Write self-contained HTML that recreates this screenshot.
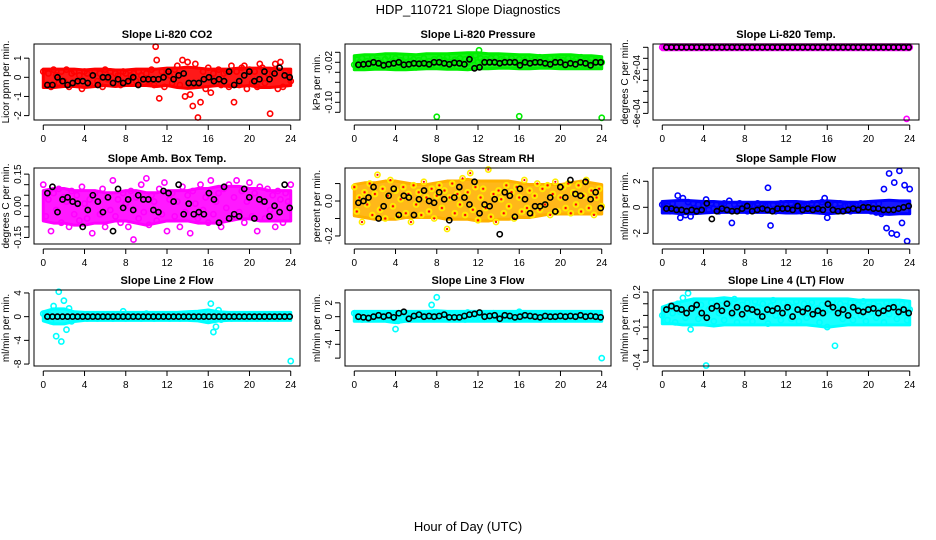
<!DOCTYPE html>
<html><head><meta charset="utf-8"><style>
body{margin:0;background:#fff;}
svg{display:block;font-family:"Liberation Sans",sans-serif;}
</style></head><body>
<svg id="chart" width="936" height="540">
<text x="468" y="14" text-anchor="middle" font-size="13">HDP_110721  Slope Diagnostics</text>
<text x="468" y="531" text-anchor="middle" font-size="13">Hour of Day (UTC)</text>
</svg>
<script>
const xTicks=[0,4,8,12,16,20,24];
const titles=["Slope Li-820 CO2","Slope Li-820 Pressure","Slope Li-820 Temp.","Slope Amb. Box Temp.","Slope Gas Stream RH","Slope Sample Flow","Slope Line 2 Flow","Slope Line 3 Flow","Slope Line 4 (LT) Flow"];
const yTitles=["Licor ppm per min.","kPa per min.","degrees C per min.","degrees C per min.","percent per min.","ml/min per min.","ml/min per min.","ml/min per min.","ml/min per min."];
const yDomains=[[-2.23,1.74],[-0.1354,0.0166],[-6.6e-4,0.3e-4],[-0.181,0.179],[-0.246,0.189],[-2.82,3.02],[-8.33,4.5],[-7.14,3.86],[-0.434,0.218]];
const yTickVals=[[-2,-1,0,1],[0,-0.02,-0.04,-0.06,-0.08,-0.10,-0.12],[0,-1e-4,-2e-4,-3e-4,-4e-4,-5e-4,-6e-4],[-0.15,-0.10,-0.05,0,0.05,0.10,0.15],[-0.2,-0.1,0,0.1],[-2,0,2],[4,0,-4,-8],[2,0,-2,-4,-6],[0.2,0.1,0,-0.1,-0.2,-0.3,-0.4]];
const yTickLabels=[["-2","-1","0","1"],["","-0.02","","","","-0.10",""],["","","-2e-04","","","","-6e-04"],["-0.15","","","0.00","","","0.15"],["-0.2","","0.0",""],["-2","0","2"],["4","0","-4","-8"],["2","0","","-4",""],["0.2","","","-0.1","","","-0.4"]];
const colors=["#ff0000","#00ee00","#ff00ff","#ff00ff","rh","#0000ff","#00ffff","#00ffff","#00ffff"];
const bandColors=["#ff0000","#00ee00","#ff00ff","#ff00ff","#ffb000","#0000ff","#00ffff","#00ffff","#00ffff"];

// hourly dense-band envelopes (hours 0..24)
const co2Lo=[-0.4,-0.4,-0.35,-0.35,-0.4,-0.35,-0.3,-0.35,-0.3,-0.3,-0.3,-0.35,-0.3,-0.4,-0.45,-0.4,-0.35,-0.3,-0.35,-0.35,-0.3,-0.4,-0.4,-0.35,-0.3];
const co2Hi=[0.3,0.3,0.3,0.3,0.25,0.3,0.3,0.25,0.25,0.3,0.3,0.3,0.35,0.35,0.4,0.35,0.3,0.3,0.3,0.35,0.35,0.35,0.35,0.3,0.3];
const presLo=[-0.03,-0.03,-0.029,-0.029,-0.03,-0.03,-0.029,-0.028,-0.028,-0.029,-0.029,-0.03,-0.028,-0.028,-0.027,-0.027,-0.028,-0.028,-0.027,-0.027,-0.028,-0.028,-0.028,-0.028,-0.028];
const presHi=[-0.012,-0.01,-0.01,-0.008,-0.008,-0.009,-0.01,-0.008,-0.008,-0.008,-0.007,-0.006,-0.006,-0.008,-0.008,-0.009,-0.01,-0.01,-0.012,-0.011,-0.01,-0.01,-0.012,-0.012,-0.014];
const tempLo=[0,0,0,0,0,0,0,0,0,0,0,0,0,0,0,0,0,0,0,0,0,0,0,0,0];
const tempHi=[0,0,0,0,0,0,0,0,0,0,0,0,0,0,0,0,0,0,0,0,0,0,0,0,0];
const ambLo=[-0.06,-0.07,-0.07,-0.08,-0.08,-0.07,-0.07,-0.06,-0.06,-0.07,-0.08,-0.07,-0.06,-0.06,-0.06,-0.07,-0.07,-0.07,-0.06,-0.05,-0.05,-0.06,-0.06,-0.06,-0.06];
const ambHi=[0.06,0.07,0.07,0.06,0.06,0.06,0.05,0.05,0.06,0.06,0.05,0.05,0.06,0.06,0.06,0.07,0.07,0.08,0.08,0.08,0.07,0.07,0.06,0.06,0.06];
const rhLo=[-0.07,-0.08,-0.09,-0.09,-0.09,-0.08,-0.08,-0.08,-0.08,-0.09,-0.09,-0.09,-0.1,-0.1,-0.09,-0.09,-0.08,-0.08,-0.07,-0.06,-0.06,-0.06,-0.06,-0.06,-0.06];
const rhHi=[0.08,0.09,0.09,0.1,0.1,0.09,0.08,0.08,0.09,0.1,0.1,0.11,0.1,0.1,0.1,0.1,0.09,0.08,0.08,0.08,0.08,0.09,0.1,0.09,0.08];
const sfLo=[-0.25,-0.25,-0.3,-0.3,-0.25,-0.2,-0.2,-0.2,-0.2,-0.2,-0.2,-0.2,-0.25,-0.25,-0.2,-0.25,-0.3,-0.25,-0.2,-0.2,-0.2,-0.3,-0.35,-0.3,-0.3];
const sfHi=[0.25,0.3,0.35,0.3,0.25,0.25,0.2,0.2,0.2,0.2,0.2,0.2,0.25,0.25,0.2,0.25,0.3,0.25,0.2,0.2,0.25,0.3,0.35,0.3,0.3];
const l2Lo=[-0.3,-0.8,-0.8,-0.4,-0.2,-0.2,-0.2,-0.2,-0.2,-0.2,-0.2,-0.2,-0.2,-0.2,-0.2,-0.3,-0.6,-0.3,-0.2,-0.2,-0.2,-0.2,-0.2,-0.2,-0.2];
const l2Hi=[0.4,0.9,0.9,0.4,0.3,0.3,0.3,0.3,0.3,0.3,0.3,0.3,0.3,0.3,0.4,0.5,0.7,0.4,0.3,0.3,0.3,0.3,0.3,0.3,0.3];
const l3Lo=[-0.3,-0.3,-0.3,-0.3,-0.5,-0.3,-0.3,-0.3,-0.3,-0.3,-0.3,-0.3,-0.3,-0.3,-0.3,-0.3,-0.3,-0.3,-0.3,-0.3,-0.3,-0.3,-0.3,-0.3,-0.3];
const l3Hi=[0.4,0.4,0.4,0.4,0.4,0.4,0.4,0.4,0.5,0.4,0.4,0.4,0.4,0.4,0.4,0.4,0.4,0.4,0.4,0.4,0.4,0.4,0.4,0.4,0.4];
const l4Lo=[-0.05,-0.05,-0.06,-0.06,-0.06,-0.07,-0.06,-0.06,-0.06,-0.06,-0.06,-0.06,-0.06,-0.06,-0.06,-0.07,-0.08,-0.07,-0.06,-0.06,-0.06,-0.06,-0.06,-0.06,-0.06];
const l4Hi=[0.05,0.08,0.1,0.12,0.12,0.12,0.13,0.12,0.12,0.12,0.12,0.12,0.12,0.12,0.12,0.12,0.12,0.12,0.12,0.11,0.11,0.11,0.11,0.11,0.1];

const co2Col=[0.3,-0.4,0.2,-0.5,0.4,0.1,-0.3,0.3,-0.2,0.4,-0.5,0.2,0.3,-0.3,0.1,-0.6,0.3,0.2,-0.4,0.1,0.3,-0.2,0.2,-0.5,0.4,-0.1,0.3,-0.3,0.2,0.1,-0.4,0.3,0.2,-0.3,0.1,0.2,-0.2,0.3,0.1,-0.3,0.2,-0.2,0.4,-0.4,0.9,-1.1,0.3,-0.5,0.2,0.1,-0.3,0.4,0.6,-0.4,0.9,-1.0,0.8,-0.9,-1.5,0.7,-2.1,-1.3,0.3,-0.6,0.5,-0.8,0.2,-0.3,0.4,-0.4,0.2,0.3,-0.5,0.6,-1.3,0.3,-0.4,0.5,0.6,-0.6,0.4,-0.3,0.3,-0.5,0.7,0.5,-0.3,0.2,-1.9,0.3,0.7,-0.6,0.8,-0.5,0.3,0.1,-0.2];
const co2Blk=[-0.4,-0.4,0,-0.2,-0.4,-0.3,-0.2,-0.2,-0.3,0.1,-0.4,0,0,-0.3,-0.1,-0.3,-0.2,0,-0.4,-0.1,-0.1,-0.1,-0.1,0,0.3,-0.1,0.1,0.2,-0.3,-0.3,-0.3,-0.1,0,-0.2,-0.1,-0.2,0.3,-0.4,-0.2,0.1,0.3,-0.2,-0.1,0.3,-0.1,0.2,0.5,0.1,0];
const presCol=[-0.025,-0.015,-0.02,-0.012,-0.028,-0.018,-0.022,-0.01,-0.025,-0.016,-0.02,-0.028,-0.014,-0.008,-0.022,-0.018,-0.012,-0.026,-0.016,-0.02,-0.01,-0.024,-0.018,-0.014,-0.03,-0.016,-0.02,-0.012,-0.022,-0.018,-0.026,-0.014,-0.02,-0.012,-0.024,-0.016,-0.01,-0.02,-0.028,-0.015,-0.018,-0.012,-0.022,-0.014,-0.02,-0.01,-0.016,-0.006,-0.02,-0.012,-0.018,-0.014,-0.02,-0.012,-0.018,-0.01,-0.02,-0.014,-0.016,-0.01,-0.02,-0.012,-0.018,-0.022,-0.014,-0.02,-0.016,-0.012,-0.022,-0.018,-0.014,-0.02,-0.01,-0.024,-0.016,-0.02,-0.012,-0.022,-0.018,-0.014,-0.025,-0.016,-0.02,-0.012,-0.022,-0.018,-0.014,-0.02,-0.01,-0.024,-0.016,-0.02,-0.012,-0.022,-0.018,-0.014,-0.02];
const presBlk=[-0.025,-0.024,-0.023,-0.02,-0.022,-0.026,-0.024,-0.022,-0.02,-0.025,-0.024,-0.022,-0.023,-0.022,-0.024,-0.02,-0.02,-0.022,-0.024,-0.021,-0.022,-0.024,-0.014,-0.032,-0.03,-0.02,-0.02,-0.02,-0.022,-0.02,-0.02,-0.02,-0.026,-0.02,-0.022,-0.02,-0.02,-0.022,-0.024,-0.02,-0.02,-0.025,-0.022,-0.024,-0.02,-0.022,-0.026,-0.02,-0.02];
const tempCol=[0,0,0,0,0,0,0,0,0,0,0,0,0,0,0,0,0,0,0,0,0,0,0,0,0,0,0,0,0,0,0,0,0,0,0,0,0,0,0,0,0,0,0,0,0,0,0,0,0];
const tempBlk=[0,0,0,0,0,0,0,0,0,0,0,0,0,0,0,0,0,0,0,0,0,0,0,0,0,0,0,0,0,0,0,0,0,0,0,0,0,0,0,0,0,0,0,0,0,0,0,0,0];
const ambCol=[0.1,-0.05,0.03,-0.12,0.06,-0.02,0.08,-0.08,0.04,0.02,-0.1,0.07,-0.04,0.05,-0.07,0.09,0.01,-0.06,0.03,-0.13,0.06,0.02,-0.04,0.08,-0.1,0.04,-0.02,0.12,-0.05,0.03,-0.08,0.06,0.01,-0.1,0.07,-0.16,0.04,-0.06,0.1,-0.03,0.13,-0.09,0.05,0.02,-0.07,0.08,-0.04,0.11,-0.12,0.03,0.06,-0.05,0.02,-0.1,0.09,-0.03,0.05,-0.13,0.07,0.01,-0.06,0.1,-0.02,0.04,-0.08,0.12,-0.04,0.02,0.06,-0.1,0.08,-0.01,0.1,-0.06,0.04,0.12,-0.03,0.07,-0.08,0.02,0.11,-0.05,0.06,-0.12,0.09,0.02,-0.06,0.08,-0.02,0.05,-0.1,0.07,0.03,-0.08,0.06,0.02,0.1];
const ambBlk=[0.06,0.09,-0.03,0.03,0.04,0.02,0.01,-0.1,-0.02,0.05,0.02,-0.03,0.04,-0.12,0.08,-0.01,0.03,-0.02,0.05,0.03,0.03,-0.02,-0.03,0.07,0.06,0.02,0.1,-0.04,0.01,-0.04,-0.03,-0.04,0.06,0.03,-0.08,0.09,-0.06,-0.04,-0.05,0.08,0.04,-0.06,0.03,0.02,-0.05,0,-0.03,0.1,-0.01];
const rhCol=[0.08,-0.06,0.02,-0.12,0.05,-0.02,0.1,-0.08,0.04,0.15,-0.05,0.07,-0.1,0.03,0.12,-0.03,0.06,-0.09,0.01,0.08,-0.07,0.04,-0.12,0.09,-0.02,0.05,-0.08,0.11,0.02,-0.06,0.07,-0.1,0.03,0.09,-0.04,0.06,-0.16,0.02,0.1,-0.07,0.04,-0.02,0.13,-0.08,0.05,0.16,-0.05,0.08,-0.11,0.02,0.07,-0.04,0.18,-0.09,0.04,-0.12,0.06,0.01,-0.07,0.09,-0.03,0.05,-0.1,0.08,0.02,-0.06,0.12,-0.04,0.06,-0.08,0.03,0.1,-0.05,0.07,-0.02,0.09,-0.08,0.04,0.11,-0.06,0.02,0.08,-0.04,0.1,-0.07,0.05,-0.02,0.09,-0.06,0.03,0.12,-0.04,0.06,-0.08,0.02,0.07,-0.03];
const rhBlk=[-0.01,0.0,0.02,0.08,-0.1,-0.03,0.03,0.07,-0.08,0.03,0.02,-0.08,0.01,0.06,0.0,-0.01,0.05,0.01,-0.11,0.02,0.08,0.02,-0.02,0.11,-0.07,-0.02,-0.03,0.01,-0.19,0.05,0.03,-0.09,0.07,0.01,-0.07,-0.03,-0.03,-0.02,0.02,-0.06,0.08,0.02,0.12,0.04,0.03,0.11,0.01,0.05,-0.04];
const sfCol=[0.2,-0.2,0.1,-0.3,0.3,-0.1,0.9,-0.8,0.7,-0.6,0.4,-0.7,0.3,-0.2,0.2,-0.3,0.1,0.6,-0.2,0.3,-0.1,0.2,-0.3,0.1,0.3,-0.2,0.5,-1.2,0.2,-0.1,0.3,-0.2,0.1,-0.3,0.2,0.1,-0.2,0.3,-0.1,0.2,0.1,1.5,-1.4,0.2,-0.3,0.1,0.3,-0.2,0.2,-0.1,0.3,-0.2,0.1,0.2,-0.3,0.1,0.2,-0.2,0.3,-0.1,0.2,-0.3,0.4,0.7,-0.8,0.3,-0.2,0.2,-0.1,0.3,-0.2,0.1,0.2,-0.3,0.1,0.2,-0.1,0.3,-0.2,0.1,0.3,-0.3,0.2,-0.4,0.3,-0.5,1.4,-1.6,2.6,-2.0,1.9,-2.1,2.8,-1.2,1.7,-2.6,1.4];
const sfBlk=[-0.1,-0.1,-0.2,-0.2,-0.3,-0.2,-0.3,-0.2,0.3,-0.9,-0.3,-0.1,-0.2,-0.3,-0.3,-0.1,0.1,-0.3,-0.2,-0.1,-0.2,-0.3,-0.1,-0.1,-0.1,-0.2,0.1,-0.2,-0.1,-0.2,-0.1,-0.2,0.2,-0.2,-0.3,-0.3,-0.2,-0.1,-0.2,0.0,0.0,-0.1,-0.1,-0.2,-0.2,-0.2,-0.1,0.0,0.1];
const l2Col=[0.5,-0.4,0.3,-0.8,1.8,-3.3,4.2,-4.2,2.7,-2.2,1.4,-0.8,0.4,-0.3,0.3,-0.2,0.2,-0.3,0.3,-0.2,0.2,-0.3,0.3,-0.2,0.2,-0.1,0.3,-0.3,0.2,-0.2,0.3,0.9,-0.3,0.2,-0.2,0.3,-0.2,0.2,-0.3,0.2,0.5,-0.2,0.3,-0.3,0.2,-0.2,0.3,-0.2,0.2,-0.3,0.3,-0.2,0.2,-0.3,0.3,-0.2,0.2,-0.3,0.3,-0.2,0.3,-0.4,0.5,-0.6,0.8,2.2,-2.6,-1.7,1.1,-0.5,0.3,-0.2,0.3,-0.3,0.2,-0.2,0.3,-0.2,0.2,-0.3,0.3,-0.2,0.2,-0.3,0.3,-0.2,0.2,-0.3,0.3,-0.2,0.2,-0.3,0.3,-0.2,0.2,-0.2,-7.5];
const l2Blk=[0,0,0,0,0,0,0,0,0,0,0,0,0,0,0,0,0,0,0,0,0,0,0,0,0,0,0,0,0,0,0,0,0,0,0,0,0,0,0,0,0,0,0,0,0,0,0,0,0];
const l3Col=[0.5,-0.3,0.2,-0.4,0.3,-0.2,0.4,-0.3,0.2,-0.2,0.3,-0.3,0.2,-0.4,0.4,-0.3,-1.8,-0.6,0.5,-0.2,0.3,-0.2,0.2,-0.3,0.3,-0.2,0.2,-0.3,0.3,-0.2,1.7,0.6,2.8,-0.2,0.3,-0.3,0.2,-0.2,0.3,-0.3,0.2,-0.2,0.4,-0.4,0.6,-0.3,0.3,-0.2,0.2,-0.3,0.3,-0.2,0.2,-0.3,0.5,-0.2,0.3,-0.3,0.2,-0.2,0.3,-0.3,0.2,-0.2,0.7,-0.3,0.3,-0.2,0.2,-0.3,0.3,-0.2,0.2,-0.3,0.3,-0.2,0.2,-0.3,0.3,-0.2,0.2,-0.3,0.3,-0.2,0.2,-0.3,0.3,-0.2,0.2,-0.3,0.3,-0.2,0.4,-0.3,0.3,-0.2,-6.0];
const l3Blk=[0,-0.1,-0.2,0,0.2,0,0.2,-0.1,0.5,0.7,-0.3,0.1,0.3,0,0.1,0,0.1,0.3,-0.1,-0.1,-0.1,0.1,0.3,0.4,0.6,0,0.1,0.2,-0.3,0.2,0.1,-0.1,0,0.2,0.1,0,-0.1,0.1,0,0,0.1,0,0.1,0,0.2,0,0.1,0,-0.1];
const l4Col=[0.0,0.05,-0.04,0.08,0.02,-0.06,0.1,0.03,0.15,-0.02,0.19,-0.12,0.06,0.12,-0.03,0.09,0.0,-0.43,0.05,0.11,-0.05,0.08,0.02,0.13,-0.04,0.07,0.1,0.0,0.14,-0.06,0.05,0.09,-0.02,0.11,0.04,-0.05,0.12,0.07,-0.01,0.1,0.03,-0.07,0.08,0.13,0.0,0.06,-0.04,0.11,0.02,0.09,-0.03,0.07,0.12,-0.05,0.04,0.1,-0.02,0.08,0.11,0.01,0.06,-0.06,0.09,0.03,-0.1,0.05,0.12,-0.26,0.04,0.1,-0.03,0.08,0.02,0.11,-0.04,0.06,0.09,0.0,0.12,-0.05,0.07,0.03,0.1,-0.02,0.08,0.04,-0.06,0.11,0.01,0.07,0.09,-0.03,0.06,0.1,0.02,-0.04,0.05];
const l4Blk=[0.05,0.08,0.06,0.05,0.02,0.06,0.09,0.02,-0.02,0.06,0.08,0.04,0.1,0.02,0.07,0.01,0.06,0.05,0.03,-0.01,0.05,0.04,0.06,0.02,0.07,-0.01,0.05,0.03,0.06,0.01,0.04,0.02,0.1,0.07,0.02,0.05,0.0,0.07,0.04,0.03,0.05,0.06,0.02,0.04,0.06,0.07,0.03,0.05,0.02];
const outX=[[10.9],[8,16,24,12.1],[23.7],[],[],[],[],[],[]];
const outY=[[1.6],[-0.129,-0.128,-0.131,0.004],[-6.5e-4],[],[],[],[],[],[]];
const colSeries=[co2Col,presCol,tempCol,ambCol,rhCol,sfCol,l2Col,l3Col,l4Col];
const blkSeries=[co2Blk,presBlk,tempBlk,ambBlk,rhBlk,sfBlk,l2Blk,l3Blk,l4Blk];
const bandLos=[co2Lo,presLo,tempLo,ambLo,rhLo,sfLo,l2Lo,l3Lo,l4Lo];
const bandHis=[co2Hi,presHi,tempHi,ambHi,rhHi,sfHi,l2Hi,l3Hi,l4Hi];

const NS="http://www.w3.org/2000/svg";
const svg=document.getElementById('chart');
const lefts=[34,345,653], tops=[44,168,290], W=266, H=76;
function mk(tag,attrs,parent){const e=document.createElementNS(NS,tag);for(const k in attrs)e.setAttribute(k,attrs[k]);(parent||svg).appendChild(e);return e;}
function dot(g,x,y,col){
  if(col==='rh'){
    const c=mk('circle',{cx:x,cy:y,r:2.6,fill:'none',stroke:'#ffee00','stroke-width':1.6},g);
    
    
    const d=mk('circle',{cx:x,cy:y,r:1.1,fill:'#ff0000'},g);
    
    
  } else {
    const c=mk('circle',{cx:x,cy:y,r:2.6,fill:'none',stroke:col,'stroke-width':1.6},g);
    
    
  }
}
for(let p=0;p<9;p++){
  const L=lefts[p%3], T=tops[Math.floor(p/3)];
  const g=mk('g',{});
  
  
  const xs=v=>L+(v+0.9)/25.8*W;
  const [y0,y1]=yDomains[p];
  const ys=v=>T+H-(v-y0)/(y1-y0)*H;
  const t=mk('text',{x:L+W/2,y:T-6,'text-anchor':'middle','font-size':11,'font-weight':'bold'},g);
  t.textContent=titles[p];
  
  
  const yt=mk('text',{x:0,y:0,'text-anchor':'middle','font-size':10,transform:`translate(${L-25},${T+H/2}) rotate(-90)`},g);
  yt.textContent=yTitles[p];
  
  
  // dense band
  const lo=bandLos[p], hi=bandHis[p];
  const pts=hi.map((v,i)=>`${xs(i)},${ys(v)-2.5}`).concat(lo.map((v,i)=>`${xs(i)},${ys(v)+2.5}`).reverse());
  const poly=mk('polygon',{points:pts.join(' '),fill:bandColors[p],'fill-opacity':0.9,stroke:bandColors[p],'stroke-width':3,'stroke-linejoin':'round'},g);
  
  
  // series
  const cs=colSeries[p], n=cs.length;
  cs.forEach((v,i)=>dot(g,xs(i*24/(n-1)),ys(v),colors[p]));
  outX[p].forEach((v,i)=>dot(g,xs(v),ys(outY[p][i]),colors[p]));
  const bs=blkSeries[p], m=bs.length;
  bs.forEach((v,i)=>dot(g,xs(0.4+i*23.5/(m-1)),ys(v),'#000'));
  const b=mk('rect',{x:L,y:T,width:W,height:H,fill:'none',stroke:'#000','stroke-width':1},g);
  
  
  mk('line',{x1:xs(0),x2:xs(24),y1:T+H+5,y2:T+H+5,stroke:'#000'},g);
  xTicks.forEach(v=>{
    mk('line',{x1:xs(v),x2:xs(v),y1:T+H+5,y2:T+H+10,stroke:'#000'},g);
    const lt=mk('text',{x:xs(v),y:T+H+22,'text-anchor':'middle','font-size':10},g);
    lt.textContent=v;
    
    
  });
  const tv=yTickVals[p];
  mk('line',{x1:L-5,x2:L-5,y1:ys(Math.max(...tv)),y2:ys(Math.min(...tv)),stroke:'#000'},g);
  tv.forEach((v,i)=>{
    mk('line',{x1:L-10,x2:L-5,y1:ys(v),y2:ys(v),stroke:'#000'},g);
    const s=yTickLabels[p][i];
    if(s){
      const lt=mk('text',{x:0,y:0,'text-anchor':'middle','font-size':10,transform:`translate(${L-13},${ys(v)}) rotate(-90)`},g);
      lt.textContent=s;
      
      
    }
  });
}
</script>
</body></html>
